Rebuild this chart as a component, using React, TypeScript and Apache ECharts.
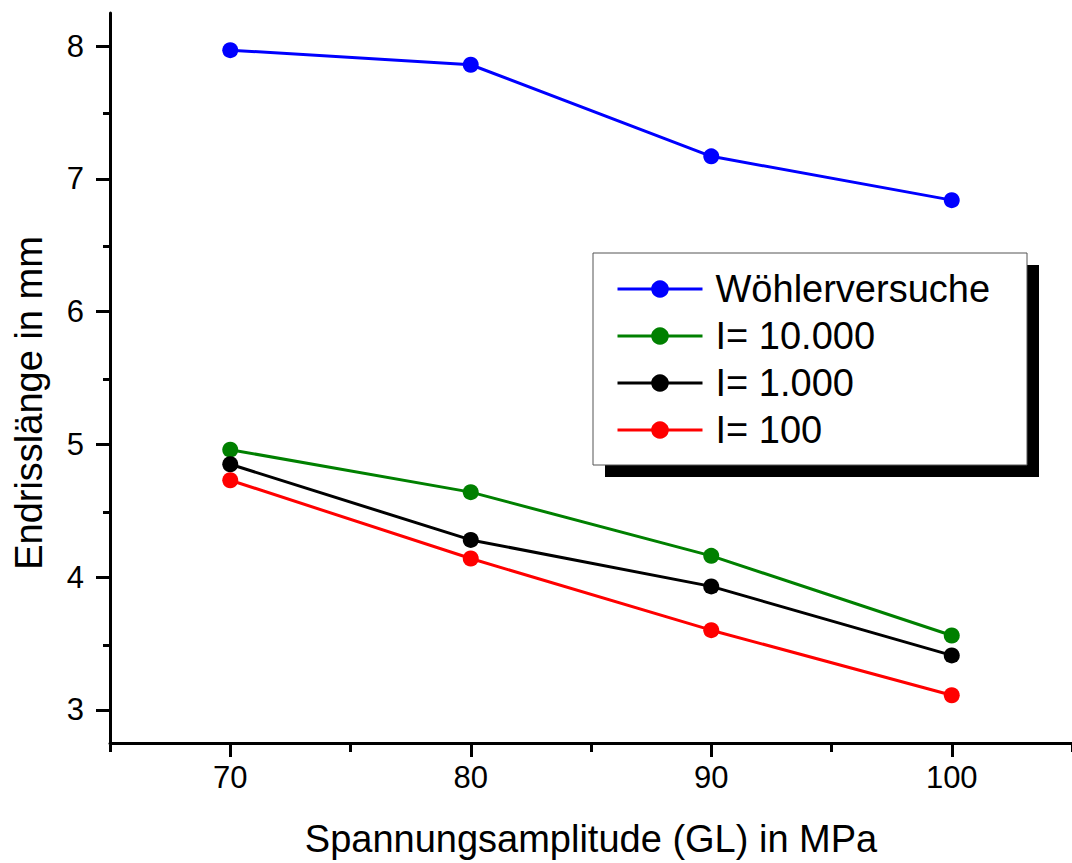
import React, { useEffect, useRef } from "react";
import * as echarts from "echarts";

const xValues = [70, 80, 90, 100];
const woehler = [7.97, 7.86, 7.17, 6.84];
const i10000 = [4.96, 4.64, 4.16, 3.56];
const i1000 = [4.85, 4.28, 3.93, 3.41];
const i100 = [4.73, 4.14, 3.6, 3.11];
const seriesNames = ["Wöhlerversuche", "I= 10.000", "I= 1.000", "I= 100"];
const seriesColors = ["#0000FF", "#008000", "#000000", "#FF0000"];
const xMajorTicks = [70, 80, 90, 100];
const xMinorTicks = [65, 75, 85, 95, 105];
const yMajorTicks = [3, 4, 5, 6, 7, 8];
const yMinorTicks = [3.5, 4.5, 5.5, 6.5, 7.5];
const xTitle = "Spannungsamplitude (GL) in MPa";
const yTitle = "Endrisslänge in mm";

const FONT = "Liberation Sans, Arial, sans-serif";

export default function App() {
  const ref = useRef<HTMLDivElement>(null);
  useEffect(() => {
    if (!ref.current) return;
    const chart = echarts.init(ref.current, null, { renderer: "svg" });
    const allData = [woehler, i10000, i1000, i100];
    const gridPos = { left: 110, top: 13, right: -5, bottom: 118 };
    const axisLine = { show: true, lineStyle: { color: "#000", width: 3 } };
    const tickStyle = { color: "#000", width: 3 };
    chart.setOption({
      animation: false,
      backgroundColor: "#fff",
      grid: [
        { ...gridPos, containLabel: false },
        { ...gridPos, containLabel: false },
      ],
      xAxis: [
        {
          type: "value",
          gridIndex: 0,
          min: 65,
          max: 105,
          position: "bottom",
          axisLine,
          splitLine: { show: false },
          axisTick: {
            show: true,
            inside: false,
            length: 14,
            customValues: xMajorTicks,
            lineStyle: tickStyle,
          },
          axisLabel: {
            customValues: xMajorTicks,
            fontSize: 31,
            fontFamily: FONT,
            color: "#000",
            margin: 19,
          },
          name: xTitle,
          nameLocation: "middle",
          nameGap: 77,
          nameTextStyle: { fontSize: 38, fontFamily: FONT, color: "#000" },
        },
        {
          type: "value",
          gridIndex: 1,
          min: 65,
          max: 105,
          position: "bottom",
          axisLine: { show: false },
          splitLine: { show: false },
          axisTick: {
            show: true,
            inside: false,
            length: 7,
            customValues: xMinorTicks,
            lineStyle: tickStyle,
          },
          axisLabel: { show: false },
        },
      ],
      yAxis: [
        {
          type: "value",
          gridIndex: 0,
          min: 2.75,
          max: 8.25,
          position: "left",
          axisLine,
          splitLine: { show: false },
          axisTick: {
            show: true,
            inside: false,
            length: 14,
            customValues: yMajorTicks,
            lineStyle: tickStyle,
          },
          axisLabel: {
            customValues: yMajorTicks,
            fontSize: 31,
            fontFamily: FONT,
            color: "#000",
            margin: 26,
          },
        },
        {
          type: "value",
          gridIndex: 1,
          min: 2.75,
          max: 8.25,
          position: "left",
          axisLine: { show: false },
          splitLine: { show: false },
          axisTick: {
            show: true,
            inside: false,
            length: 7,
            customValues: yMinorTicks,
            lineStyle: tickStyle,
          },
          axisLabel: { show: false },
        },
      ],
      graphic: [
        {
          type: "rect",
          z: 1,
          shape: { x: 605, y: 265, width: 434, height: 212 },
          style: { fill: "#000" },
        },
        {
          type: "rect",
          z: 2,
          shape: { x: 593, y: 253, width: 434, height: 212 },
          style: { fill: "#fff", stroke: "#555", lineWidth: 1 },
        },
        {
          type: "text",
          x: 29,
          y: 403,
          rotation: Math.PI / 2,
          style: {
            text: yTitle,
            font: `38px ${FONT}`,
            fill: "#000",
            align: "center",
            verticalAlign: "middle",
          },
        },
      ],
      legend: {
        show: true,
        orient: "vertical",
        left: 616,
        top: 269,
        z: 10,
        itemWidth: 85,
        itemHeight: 22,
        itemGap: 7,
        padding: 0,
        data: seriesNames,
        lineStyle: { width: 3 },
        textStyle: {
          fontSize: 38,
          fontFamily: FONT,
          color: "#000",
          lineHeight: 40,
          padding: [0, 0, 0, 8],
        },
      },
      series: seriesNames.map((name, i) => ({
        name,
        type: "line",
        xAxisIndex: 0,
        yAxisIndex: 0,
        data: xValues.map((x, j) => [x, allData[i][j]]),
        symbol: "circle",
        symbolSize: 16,
        lineStyle: { color: seriesColors[i], width: 3 },
        itemStyle: { color: seriesColors[i] },
        z: 5,
      })),
    });
    return () => chart.dispose();
  }, []);
  return (
    <div
      ref={ref}
      style={{ position: "fixed", left: 0, top: 0, width: 1072, height: 863 }}
    />
  );
}
